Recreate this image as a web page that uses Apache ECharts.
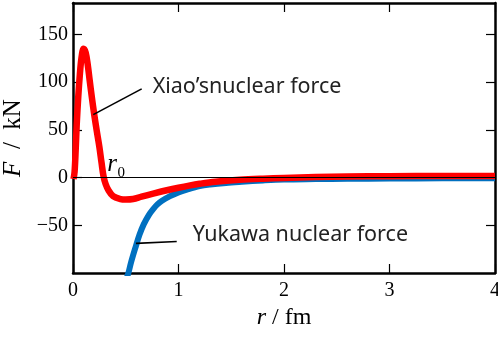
<!DOCTYPE html>
<html>
<head>
<meta charset="utf-8">
<script src="https://cdn.jsdelivr.net/npm/echarts@6/dist/echarts.min.js"></script>
<style>
  html, body { margin: 0; padding: 0; background: #fff; }
  #chart { width: 498px; height: 338px; }
</style>
</head>
<body>
<div id="chart"></div>
<script>
// Force between nucleons, F (kN) against separation r (fm)
const xiaoForce = [
  [0.005, -1.5], [0.015, 6], [0.025, 28], [0.035, 55], [0.05, 85], [0.065, 108],
  [0.08, 125], [0.1, 135], [0.12, 131], [0.14, 118], [0.158, 102], [0.18, 83],
  [0.2, 67], [0.225, 49], [0.25, 32], [0.27, 16], [0.29, 1], [0.31, -7],
  [0.335, -13], [0.38, -19.5], [0.45, -22.5], [0.5, -23], [0.57, -22.5],
  [0.65, -20], [0.76, -16.8], [0.9, -13], [1.0, -10.6], [1.1, -8.4],
  [1.2, -6.5], [1.35, -4.3], [1.58, -2.3], [1.8, -1.1], [2.0, -0.3], [2.3, 0.6],
  [2.6, 1.2], [3.0, 1.5], [3.5, 1.6], [4.0, 1.7]
];
const yukawaForce = [
  [0.5, -108], [0.525, -100], [0.55, -89], [0.59, -74], [0.63, -60], [0.67, -49],
  [0.72, -39], [0.76, -33], [0.8, -28], [0.84, -24.5], [0.92, -19.5], [1.0, -15.5],
  [1.08, -12.6], [1.2, -9], [1.3, -7.3], [1.45, -5.6], [1.6, -4.4], [1.8, -3],
  [2.0, -2], [2.3, -1.6], [2.6, -1.3], [3.0, -1], [3.5, -0.8], [4.0, -0.7]
];
const xTicks = [0, 1, 2, 3, 4];
const yTicks = [-50, 0, 50, 100, 150];

// Annotation anchors in data units
const xiaoLeader = [[0.192, 66], [0.651, 93]];
const xiaoText = [0.75, 95];
const yukawaLeader = [[0.597, -69], [0.983, -67]];
const yukawaText = [1.13, -60];
const rSymbol = [0.32, 14];
const rSubscript = [0.418, 5];

const serif = 'Liberation Serif';
const sans = 'Noto Sans';
const frame = { show: true, onZero: false, lineStyle: { color: '#000', width: 2.5 } };
const tickStyle = { color: '#000', width: 1.2 };
const fmtMinus = v => (v < 0 ? '\u2212' + Math.abs(v) : String(v));

function textPoint(coord, text, style) {
  return {
    coord: coord,
    symbol: 'circle',
    symbolSize: 1,
    itemStyle: { color: 'rgba(0,0,0,0)' },
    label: Object.assign({
      show: true, position: 'right', distance: 0, formatter: text, color: '#222'
    }, style)
  };
}

const chart = echarts.init(document.getElementById('chart'), null, { renderer: 'canvas' });
chart.setOption({
  animation: false,
  backgroundColor: '#fff',
  grid: { left: 73, right: 3, top: 3, bottom: 65, containLabel: false, outerBoundsMode: 'none' },
  xAxis: [{
    type: 'value', min: 0, max: 4, interval: 1, position: 'bottom',
    axisLine: frame,
    axisTick: { inside: true, length: 9, lineStyle: tickStyle, customValues: xTicks },
    axisLabel: { customValues: xTicks, fontFamily: serif, fontSize: 20, color: '#000', margin: 8 },
    splitLine: { show: false },
    name: '{i|r} / fm', nameLocation: 'middle', nameGap: 32,
    nameTextStyle: {
      fontFamily: serif, fontSize: 24, color: '#000',
      rich: { i: { fontFamily: serif, fontSize: 24, fontStyle: 'italic', color: '#000' } }
    }
  }, {
    type: 'value', min: 0, max: 4, interval: 1, position: 'top',
    axisLine: frame,
    axisTick: { inside: true, length: 9, lineStyle: tickStyle, customValues: xTicks },
    axisLabel: { show: false },
    splitLine: { show: false }
  }],
  yAxis: [{
    type: 'value', min: -100, max: 183, position: 'left',
    axisLine: frame,
    axisTick: { inside: true, length: 9, lineStyle: tickStyle, customValues: yTicks },
    axisLabel: { customValues: yTicks, formatter: fmtMinus, fontFamily: serif, fontSize: 20, color: '#000', margin: 5 },
    splitLine: { show: false },
    name: '{i|F}  /  kN', nameLocation: 'middle', nameGap: 39, nameRotate: 90,
    nameTextStyle: {
      fontFamily: serif, fontSize: 25, color: '#000',
      rich: { i: { fontFamily: serif, fontSize: 25, fontStyle: 'italic', color: '#000' } }
    }
  }, {
    type: 'value', min: -100, max: 183, position: 'right',
    axisLine: frame,
    axisTick: { inside: true, length: 9, lineStyle: tickStyle, customValues: yTicks },
    axisLabel: { show: false },
    splitLine: { show: false }
  }],
  series: [{
    // zero reference line and annotations
    type: 'line', data: [], z: 1, silent: true,
    markLine: {
      silent: true, symbol: 'none', animation: false,
      label: { show: false },
      data: [
        [{ coord: [0, 0], lineStyle: { color: '#000', width: 1.2, type: 'solid' } },
         { coord: [4, 0] }],
        [{ coord: xiaoLeader[0], lineStyle: { color: '#000', width: 1.6, type: 'solid' } },
         { coord: xiaoLeader[1] }],
        [{ coord: yukawaLeader[0], lineStyle: { color: '#000', width: 1.6, type: 'solid' } },
         { coord: yukawaLeader[1] }]
      ]
    },
    markPoint: {
      silent: true, animation: false,
      data: [
        textPoint(xiaoText, 'Xiao\u2019snuclear force', { fontFamily: sans, fontSize: 21.5 }),
        textPoint(yukawaText, 'Yukawa nuclear force', { fontFamily: sans, fontSize: 21.5 }),
        textPoint(rSymbol, 'r', { fontFamily: serif, fontSize: 25, fontStyle: 'italic', color: '#000' }),
        textPoint(rSubscript, '0', { fontFamily: serif, fontSize: 15, color: '#000' })
      ]
    }
  }, {
    name: 'Yukawa nuclear force', type: 'line', data: yukawaForce, z: 2,
    showSymbol: false, smooth: 0.35, clip: true,
    lineStyle: { color: '#0070c0', width: 6 }
  }, {
    name: 'Xiao\u2019snuclear force', type: 'line', data: xiaoForce, z: 3,
    showSymbol: false, smooth: 0.35, clip: true,
    lineStyle: { color: '#ff0000', width: 6.5, join: 'round' }
  }]
});
</script>
</body>
</html>
